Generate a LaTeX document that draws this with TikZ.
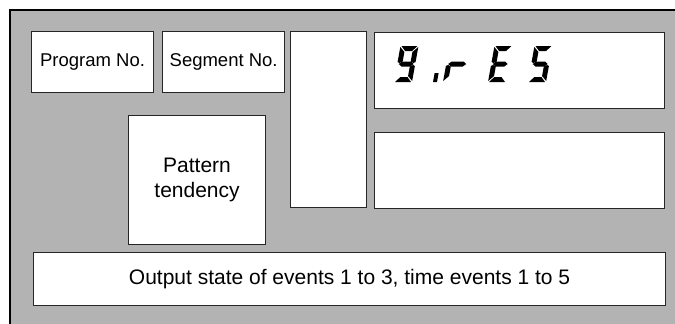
\documentclass[tikz,border=0pt]{standalone}
\usepackage{fontspec}
\setmainfont{Liberation Sans}
\usetikzlibrary{positioning}
\definecolor{panelgrey}{RGB}{179,179,179}
\tikzset{
  field/.style={
    draw=black!85, fill=white, line width=1.1pt,
    align=center, inner sep=0pt,
    font=\fontsize{21}{25}\selectfont
  },
  fieldSmall/.style={
    field, font=\fontsize{18.5}{22}\selectfont
  },
  % LCD segment
  lcdseg/.style={fill=black},
}
% seven segment pieces (local units, y up, cell 18 x 36)
\newcommand{\sega}{\fill[lcdseg] (1,36) -- (17,36) -- (12.5,31) -- (5.5,31) -- cycle;}
\newcommand{\segd}{\fill[lcdseg] (1,0) -- (17,0) -- (12.5,5) -- (5.5,5) -- cycle;}
\newcommand{\segg}{\fill[lcdseg] (1.5,18) -- (4.5,20.5) -- (13.5,20.5) -- (16.5,18) -- (13.5,15.5) -- (4.5,15.5) -- cycle;}
\newcommand{\segh}{\fill[lcdseg] (2,18) -- (5,20.5) -- (17,20.5) -- (20,18) -- (17,15.5) -- (5,15.5) -- cycle;}
\newcommand{\segf}{\fill[lcdseg] (0,35) -- (5,30) -- (5,20.5) -- (2,19) -- (0,20) -- cycle;}
\newcommand{\segb}{\fill[lcdseg] (18,35) -- (13,30) -- (13,20.5) -- (16,19) -- (18,20) -- cycle;}
\newcommand{\sege}{\fill[lcdseg] (0,1) -- (5,6) -- (5,15.5) -- (2,17) -- (0,16) -- cycle;}
\newcommand{\segc}{\fill[lcdseg] (18,1) -- (13,6) -- (13,15.5) -- (16,17) -- (18,16) -- cycle;}
\newcommand{\segp}{\fill[lcdseg] (-10,0) -- (-6,0) -- (-6,9) -- (-10,9) -- cycle;}
\newcommand{\lcdchar}[2]{%
  \begin{scope}[shift={(#1,82)}, y={(0pt,1pt)}, xslant=0.18]
    \foreach \s in {#2} {\csname seg\s\endcsname}
  \end{scope}
}

\begin{document}
\begin{tikzpicture}[x=1pt, y=-1pt]

  \useasboundingbox (0,0) rectangle (675,324);

  %% panel
  \fill[panelgrey] (10,10) rectangle (677,326);
  \draw[line width=2pt] (10,326) -- (10,10) -- (677,10);

  %% fields
  \node[fieldSmall, anchor=north west, minimum width=122pt, minimum height=61pt]
    (prog) at (31,31) {Program No.};
  \node[fieldSmall, right=8pt of prog, minimum width=122pt, minimum height=61pt]
    (seg) {Segment No.};
  \node[field, anchor=north west, minimum width=137pt, minimum height=129pt]
    (pat) at (128,115) {Pattern\\tendency};
  \node[field, anchor=north west, minimum width=76pt, minimum height=176pt]
    (tall) at (290,31) {};
  \node[field, anchor=north west, minimum width=290pt, minimum height=76pt]
    (disp) at (374,32) {};
  \node[field, below=23pt of disp, minimum width=290pt, minimum height=76pt]
    (low) {};
  \node[field, anchor=north west, minimum width=632pt, minimum height=53pt]
    (out) at (33,252) {Output state of events 1 to 3, time events 1 to 5};

  %% display text
  \lcdchar{394}{a,b,c,d,f,g}
  \lcdchar{443}{p,e,h}
  \lcdchar{488}{a,d,e,f,g}
  \lcdchar{528}{a,c,d,f,g}

\end{tikzpicture}
\end{document}
